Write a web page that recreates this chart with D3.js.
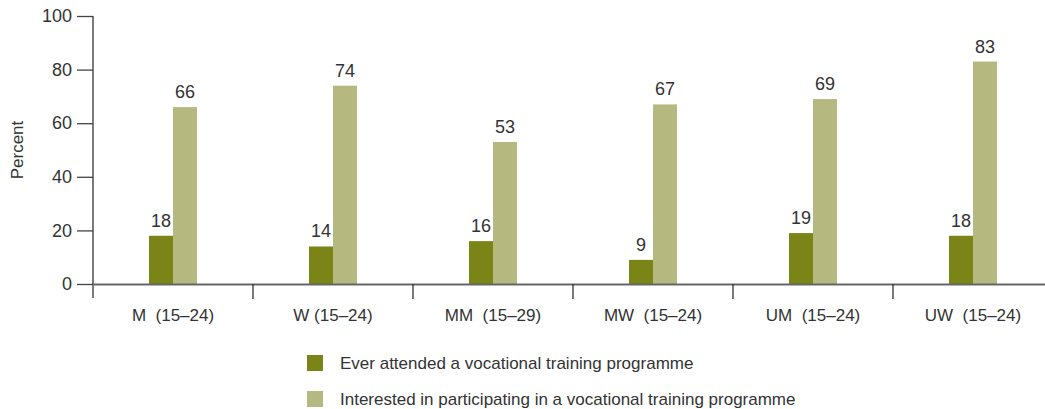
<!DOCTYPE html>
<html><head><meta charset="utf-8">
<script src="https://cdn.jsdelivr.net/npm/d3@7"></script>
<style>body{margin:0;background:#fff}svg{display:block}text{white-space:pre}</style>
</head><body><svg id="c" width="1045" height="409"></svg>
<script>
const categories = ["M  (15–24)", "W (15–24)", "MM  (15–29)", "MW  (15–24)", "UM  (15–24)", "UW  (15–24)"];
const seriesNames = ["Ever attended a vocational training programme", "Interested in participating in a vocational training programme"];
const attended = [18, 14, 16, 9, 19, 18];
const interested = [66, 74, 53, 67, 69, 83];
const yTicks = [0, 20, 40, 60, 80, 100];
const colors = ["#7b8417", "#b5b97f"];

const svg = d3.select("#c");
const font = "'Liberation Sans', Arial, sans-serif";
const textColor = "#333";

const x0 = d3.scaleBand().domain(categories).range([93, 1053]).padding(0);
const barW = 24;
const x1 = d3.scaleBand().domain([0, 1]).range([x0.bandwidth() / 2 - barW, x0.bandwidth() / 2 + barW]).padding(0);
const y = d3.scaleLinear().domain([0, 100]).range([284, 16]);

const series = [attended, interested];

// bars
categories.forEach((c, i) => {
  const g = svg.append("g").attr("transform", `translate(${x0(c)},0)`);
  series.forEach((s, k) => {
    g.append("rect")
      .attr("x", x1(k)).attr("width", x1.bandwidth())
      .attr("y", y(s[i])).attr("height", y(0) - y(s[i]))
      .attr("fill", colors[k]);
    g.append("text")
      .attr("x", x1(k) + x1.bandwidth() / 2)
      .attr("y", y(s[i]) - 9)
      .attr("text-anchor", "middle")
      .attr("font-family", font).attr("font-size", 18).attr("fill", textColor)
      .text(s[i]);
  });
});

// y axis
const yAxis = svg.append("g").attr("transform", "translate(93,0)")
  .call(d3.axisLeft(y).tickValues(yTicks).tickSize(16).tickPadding(5));
yAxis.select(".domain").remove();
yAxis.selectAll(".tick line").attr("stroke", "#444").attr("stroke-width", 1.3);
yAxis.selectAll(".tick text").attr("font-family", font).attr("font-size", 18).attr("fill", textColor);
svg.append("line").attr("x1", 93).attr("x2", 93).attr("y1", 16).attr("y2", 298)
  .attr("stroke", "#333").attr("stroke-width", 1.3);

// x axis
const xAxis = svg.append("g").attr("transform", "translate(0,284)")
  .call(d3.axisBottom(x0).tickSize(0).tickPadding(25));
xAxis.select(".domain").attr("stroke", "#666").attr("stroke-width", 2);
xAxis.selectAll(".tick text").attr("font-family", font).attr("font-size", 17).attr("fill", textColor);
// band separators
categories.slice(1).forEach(c => {
  svg.append("line").attr("x1", x0(c)).attr("x2", x0(c)).attr("y1", 284).attr("y2", 299)
    .attr("stroke", "#333").attr("stroke-width", 1.3);
});

// y label
svg.append("text").attr("transform", "translate(23,150) rotate(-90)")
  .attr("text-anchor", "middle").attr("font-family", font).attr("font-size", 17).attr("fill", textColor)
  .text("Percent");

// legend
seriesNames.forEach((n, k) => {
  const ly = 355 + k * 36;
  svg.append("rect").attr("x", 307).attr("y", ly).attr("width", 16).attr("height", 16).attr("fill", colors[k]);
  svg.append("text").attr("x", 340).attr("y", ly + 14)
    .attr("font-family", font).attr("font-size", 17).attr("fill", textColor).text(n);
});
</script></body></html>
